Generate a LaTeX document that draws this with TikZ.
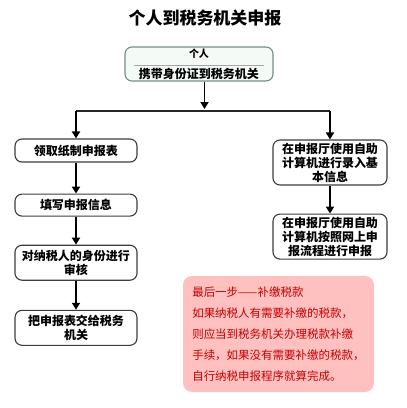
\documentclass[tikz,border=0pt]{standalone}
\usepackage{fontspec}
\setmainfont{Noto Sans CJK SC}
\usepackage{tikz}
\usetikzlibrary{positioning, arrows.meta}
\definecolor{boxline}{RGB}{60,60,60}
\definecolor{topfill}{RGB}{244,251,247}
\definecolor{topline}{RGB}{120,140,130}
\definecolor{notefill}{RGB}{255,192,192}
\definecolor{notetext}{RGB}{195,0,0}
\tikzset{
  stepbox/.style={draw=boxline, line width=1.1pt, rounded corners=7pt, fill=white,
    align=center, inner sep=2pt, font=\fontsize{12}{14}\selectfont\bfseries},
  link/.style={-{Triangle[width=8pt,length=7pt]}, line width=1.8pt},
  bar/.style={line width=1.3pt, draw=black!85}
}

\begin{document}
\begin{tikzpicture}
\useasboundingbox (0pt,0pt) rectangle (407pt,-408pt);
\node[font=\fontsize{17}{20}\selectfont\bfseries] (title) at (205pt,-18pt) {个人到税务机关申报};
\node[stepbox, draw=topline, fill=topfill, minimum width=148pt, minimum height=34pt,
  inner sep=1pt, font=\fontsize{12}{13}\selectfont\bfseries] (top) at (199pt,-64pt)
  {{\fontsize{10}{11}\selectfont 个人}\\[-4pt]
   \textcolor{black!35}{\rule{130pt}{0.8pt}}\\[-1pt]
   携带身份证到税务机关};
\coordinate (split) at (204.5pt,-111pt);

% left column
\node[stepbox, minimum width=122pt, minimum height=23pt] (form) at (76pt,-150.5pt) {领取纸制申报表};
\node[stepbox, minimum width=122pt, minimum height=22pt, below=31pt of form] (fill) {填写申报信息};
\node[stepbox, minimum width=122pt, minimum height=35pt, below=28pt of fill] (check) {对纳税人的身份进行\\审核};
\node[stepbox, minimum width=122pt, minimum height=35pt, below=29pt of check] (hand) {把申报表交给税务\\机关};

% right column
\node[stepbox, minimum width=114pt, minimum height=45pt] (enter) at (330pt,-162.5pt) {在申报厅使用自助\\计算机进行录入基\\本信息};
\node[stepbox, minimum width=114pt, minimum height=45pt, below=28pt of enter] (online) {在申报厅使用自助\\计算机按照网上申\\报流程进行申报};

% note
\node[fill=notefill, rounded corners=9pt, minimum width=191pt, minimum height=116pt,
  align=left, text=notetext, font=\fontsize{11.5}{21}\selectfont] (note) at (278.5pt,-334pt)
  {最后一步——补缴税款\\如果纳税人有需要补缴的税款，\\则应当到税务机关办理税款补缴\\手续，如果没有需要补缴的税款，\\自行纳税申报程序就算完成。};

\coordinate (jl) at (form.north |- split);
\coordinate (jr) at (enter.north |- split);
\draw[link] (top.south -| split) -- ([yshift=2pt]split);
\draw[bar] (jl) -- (jr);
\draw[link] (jl) -- (form);
\draw[link] (jr) -- (enter);
\draw[link] (form) -- (fill);
\draw[link] (fill) -- (check);
\draw[link] (check) -- (hand);
\draw[link] (enter) -- (online);
\end{tikzpicture}
\end{document}
